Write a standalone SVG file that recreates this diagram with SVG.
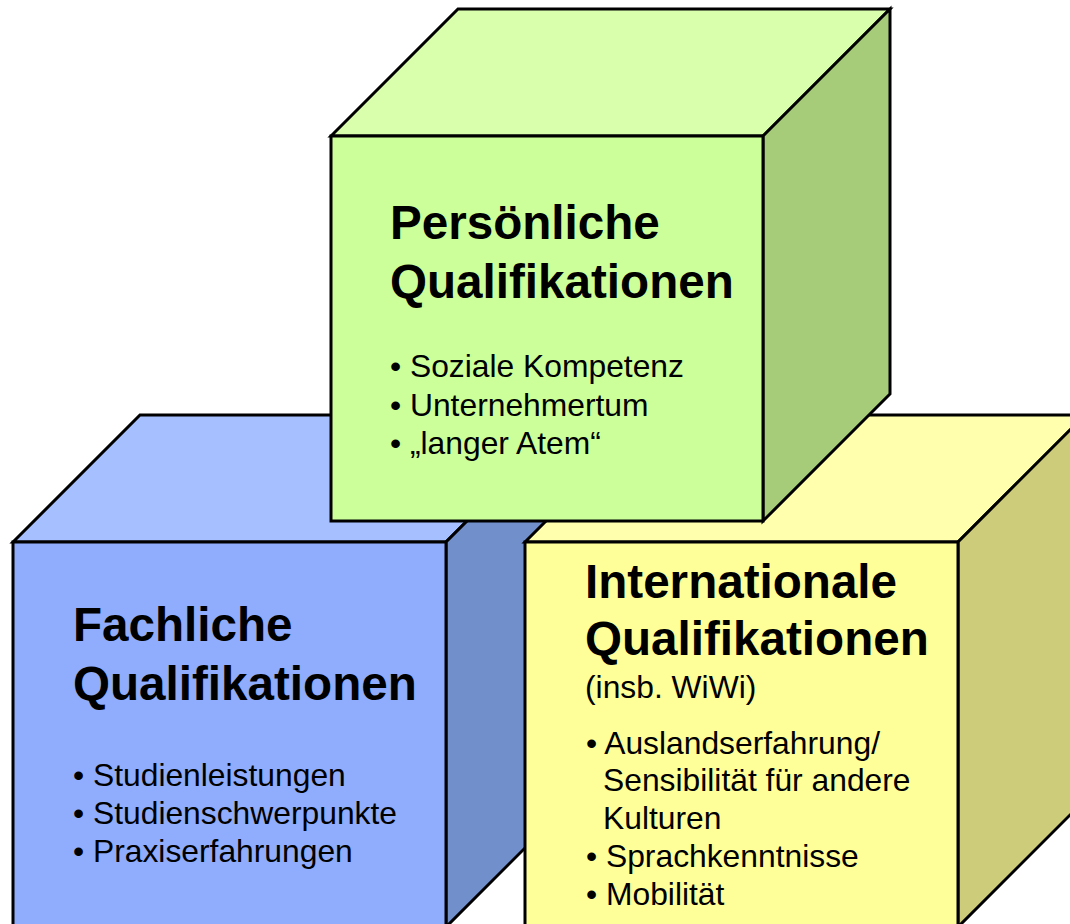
<svg xmlns="http://www.w3.org/2000/svg" width="1070" height="924" viewBox="0 0 1070 924">
<style>
.e{stroke:#000;stroke-width:3;stroke-linejoin:miter}
.t{font-family:"Liberation Sans",Arial,sans-serif;font-weight:bold;font-size:47.6px;fill:#000}
.b{font-family:"Liberation Sans",Arial,sans-serif;font-size:31.8px;fill:#000}
.bf{fill:#8FADFC}.bt{fill:#A6BFFF}.bs{fill:#718FCB}
.yf{fill:#FFFF99}.yt{fill:#FFFFAD}.ys{fill:#CCCC7A}
.gf{fill:#CCFF99}.gt{fill:#D9FFAD}.gs{fill:#A6CC7A}
</style>
<rect width="1070" height="924" fill="#fff"/>
<g id="fachlich">
<polygon class="e bt" points="13,542 140,415 573,415 446,542"/>
<polygon class="e bs" points="446,542 573,415 573,800 446,927"/>
<rect class="e bf" x="13" y="542" width="433" height="385"/>
<text class="t" x="73" y="641">Fachliche</text>
<text class="t" x="73" y="700">Qualifikationen</text>
<text class="b" x="73" y="786">• Studienleistungen</text>
<text class="b" x="73" y="824">• Studienschwerpunkte</text>
<text class="b" x="73" y="862">• Praxiserfahrungen</text>
</g>
<g id="international">
<polygon class="e yt" points="525,542 652,415 1085,415 958,542"/>
<polygon class="e ys" points="958,542 1085,415 1085,800 958,927"/>
<rect class="e yf" x="525" y="542" width="433" height="385"/>
<text class="t" x="585" y="598">Internationale</text>
<text class="t" x="585" y="655">Qualifikationen</text>
<text class="b" x="585" y="698">(insb. WiWi)</text>
<text class="b" x="586" y="754">• Auslandserfahrung/</text>
<text class="b" x="603" y="791">Sensibilität für andere</text>
<text class="b" x="603" y="829">Kulturen</text>
<text class="b" x="586" y="867">• Sprachkenntnisse</text>
<text class="b" x="586" y="905">• Mobilität</text>
</g>
<g id="persoenlich">
<polygon class="e gt" points="331,136 458,9 890,9 763,136"/>
<polygon class="e gs" points="763,136 890,9 890,394 763,521"/>
<rect class="e gf" x="331" y="136" width="432" height="385"/>
<text class="t" x="390" y="239">Persönliche</text>
<text class="t" x="390" y="298">Qualifikationen</text>
<text class="b" x="390" y="377">• Soziale Kompetenz</text>
<text class="b" x="390" y="416">• Unternehmertum</text>
<text class="b" x="390" y="454">• „langer Atem“</text>
</g>
<g id="connectors"/>
</svg>
